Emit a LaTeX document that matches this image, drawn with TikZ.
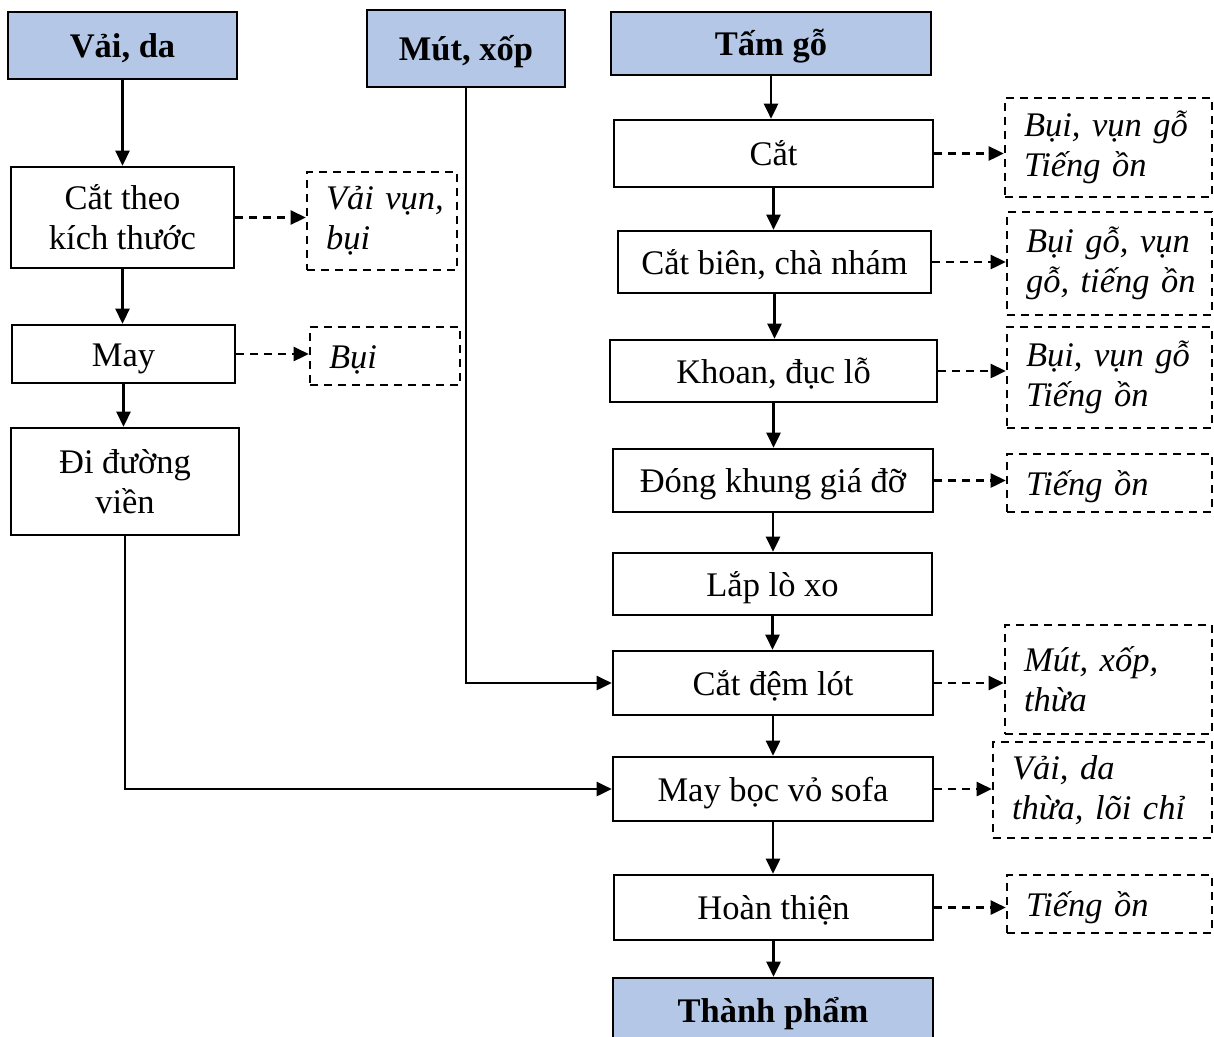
\documentclass[tikz,border=0pt]{standalone}
\usepackage{fontspec}
\setmainfont{Liberation Serif}
\usetikzlibrary{arrows.meta}
\definecolor{headblue}{RGB}{180,199,231}
\tikzset{
  base/.style={draw=black, line width=2.6pt, font=\fontsize{34.5}{40}\selectfont, align=center, inner sep=0pt},
  head/.style={base, fill=headblue, font=\fontsize{34.5}{40}\selectfont\bfseries},
  proc/.style={base},
  waste/.style={draw=black, line width=2.6pt, dash pattern=on 8pt off 6pt,
    font=\fontsize{34.5}{40}\selectfont\itshape, align=left, inner xsep=19pt, inner ysep=0pt},
  oneline/.style={text height=30pt, text depth=6pt},
  tip/.style={-{Triangle[length=15pt,width=14pt]}},
  flow/.style={line width=2.6pt, tip},
  emit/.style={line width=2.6pt, dash pattern=on 8pt off 6pt, tip},
  bx/.style 2 args={minimum width=#1pt, minimum height=#2pt},
  wb/.style 2 args={text width=#1pt-38pt, minimum height=#2pt},
}
\begin{document}
\begin{tikzpicture}[x=1pt, y=-1pt]
\useasboundingbox (0,0) rectangle (1214,1036);

% raw materials
\node[head, oneline, bx={229}{67}] (vai) at (122.5,45.5) {Vải, da};
\node[head, oneline, bx={198}{77}] (mut) at (466,48.5) {Mút, xốp};
\node[head, oneline, bx={320}{63}] (go) at (771,43.5) {Tấm gỗ};

% fabric line
\node[proc, bx={223}{101}] (catkt) at (122.5,217.5) {Cắt theo\\kích thước};
\node[proc, oneline, bx={223}{58}] (may) at (123.5,354) {May};
\node[proc, bx={228}{107}] (vien) at (125,481.5) {Đi đường\\viền};
\node[waste, wb={150}{98}] (w1) at (382,221) {\mbox{Vải vụn,}\\bụi};
\node[waste, oneline, wb={150}{58}] (w2) at (385,356) {Bụi};

% frame line
\node[proc, oneline, bx={319}{67}] (cat) at (773.5,153.5) {Cắt};
\node[proc, oneline, bx={313}{62}] (bien) at (774.5,262) {Cắt biên, chà nhám};
\node[proc, oneline, bx={327}{62}] (khoan) at (773.5,371) {Khoan, đục lỗ};
\node[proc, oneline, bx={320}{63}] (khung) at (773,480.5) {Đóng khung giá đỡ};
\node[proc, oneline, bx={319}{62}] (loxo) at (772.5,584) {Lắp lò xo};
\node[proc, oneline, bx={320}{64}] (dem) at (773,683) {Cắt đệm lót};
\node[proc, oneline, bx={320}{64}] (boc) at (773,789) {May bọc vỏ sofa};
\node[proc, oneline, bx={319}{65}] (hoan) at (773.5,907.5) {Hoàn thiện};
\node[head, oneline, bx={320}{64}] (tp) at (773,1010) {Thành phẩm};

% emissions
\node[waste, wb={207}{99}] (v1) at (1108.5,147.5) {\mbox{Bụi, vụn gỗ}\\Tiếng ồn};
\node[waste, wb={205}{103}] (v2) at (1109.5,263.5) {\mbox{Bụi gỗ, vụn}\\\mbox{gỗ, tiếng ồn}};
\node[waste, wb={205}{101}] (v3) at (1109.5,377.5) {\mbox{Bụi, vụn gỗ}\\Tiếng ồn};
\node[waste, oneline, wb={205}{58}] (v4) at (1109.5,483) {Tiếng ồn};
\node[waste, wb={207}{109}] (v6) at (1108.5,679.5) {\mbox{Mút, xốp,}\\thừa};
\node[waste, wb={219}{96}] (v7) at (1102.5,790) {Vải, da\\\mbox{thừa, lõi chỉ}};
\node[waste, oneline, wb={205}{58}] (v8) at (1109.5,904) {Tiếng ồn};

% main flows
\draw[flow] (vai.south) -- (vai.south |- catkt.north);
\draw[flow] (catkt.south) -- (catkt.south |- may.north);
\draw[flow] (may.south) -- (may.south |- vien.north);
\draw[flow] (vien.south) |- (boc.west);
\draw[flow] (mut.south) |- (dem.west);
\draw[flow] (go.south) -- (go.south |- cat.north);
\draw[flow] (cat.south) -- (cat.south |- bien.north);
\draw[flow] (bien.south) -- (bien.south |- khoan.north);
\draw[flow] (khoan.south) -- (khoan.south |- khung.north);
\draw[flow] (khung.south) -- (khung.south |- loxo.north);
\draw[flow] (loxo.south) -- (loxo.south |- dem.north);
\draw[flow] (dem.south) -- (dem.south |- boc.north);
\draw[flow] (boc.south) -- (boc.south |- hoan.north);
\draw[flow] (hoan.south) -- (hoan.south |- tp.north);

% waste outputs
\draw[emit] (catkt.east) -- (catkt.east -| w1.west);
\draw[emit] (may.east) -- (may.east -| w2.west);
\draw[emit] (cat.east) -- (cat.east -| v1.west);
\draw[emit] (bien.east) -- (bien.east -| v2.west);
\draw[emit] (khoan.east) -- (khoan.east -| v3.west);
\draw[emit] (khung.east) -- (khung.east -| v4.west);
\draw[emit] (dem.east) -- (dem.east -| v6.west);
\draw[emit] (boc.east) -- (boc.east -| v7.west);
\draw[emit] (hoan.east) -- (hoan.east -| v8.west);
\end{tikzpicture}
\end{document}
